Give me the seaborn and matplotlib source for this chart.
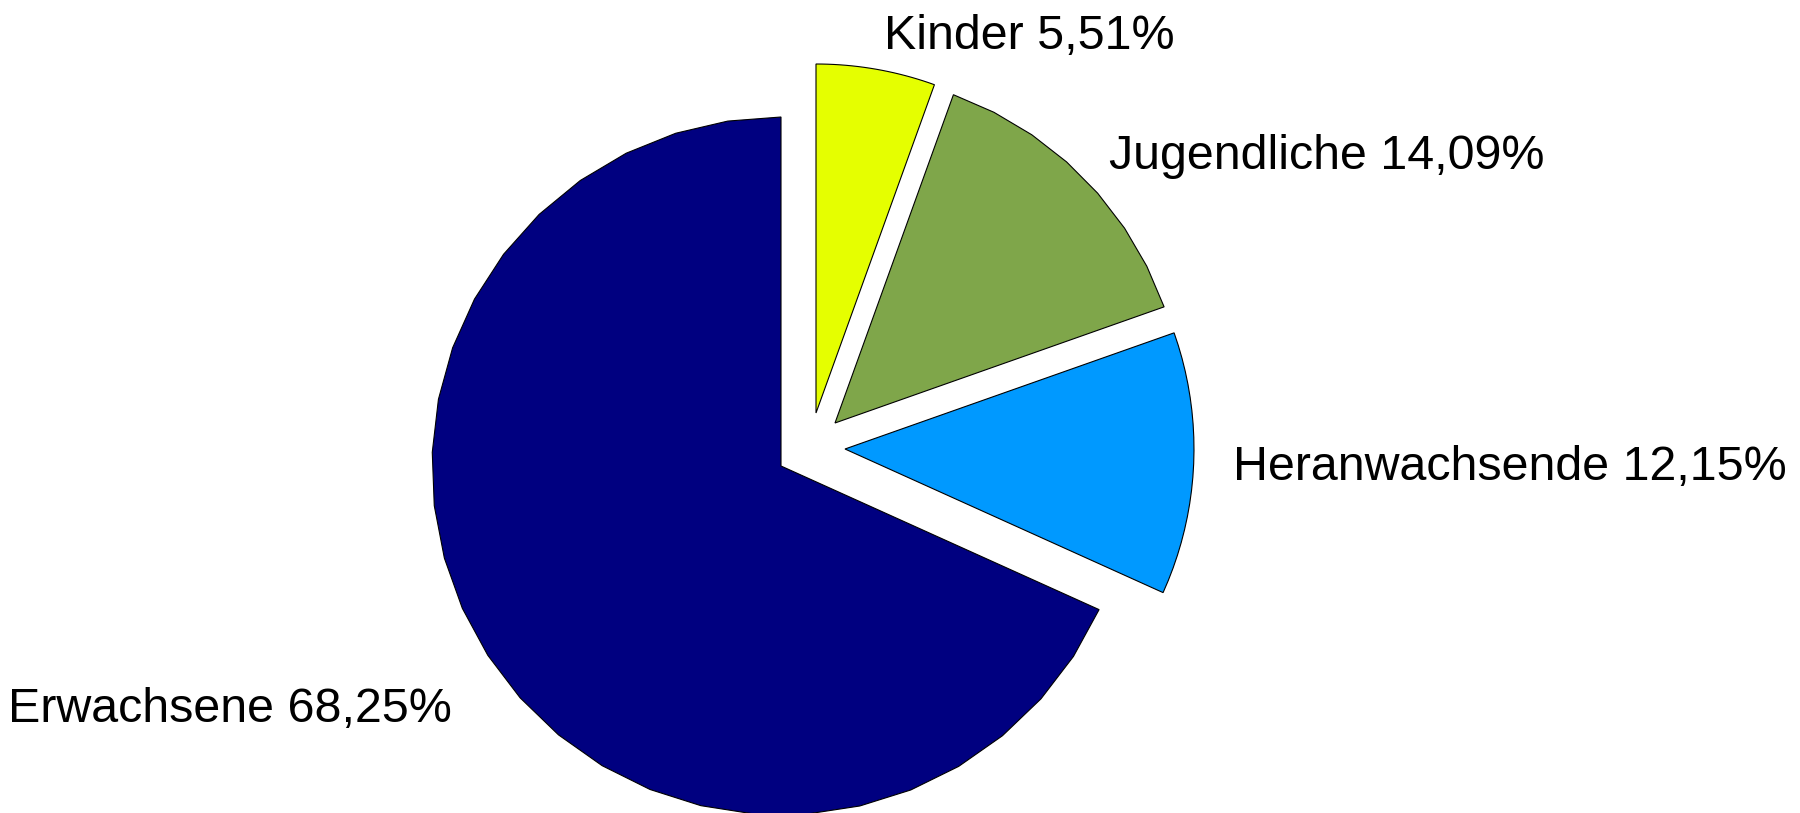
import numpy as np
import matplotlib
matplotlib.use("Agg")
import matplotlib.pyplot as plt
from matplotlib.patches import Polygon
import seaborn as sns

# --- data ---
labels = ["Kinder", "Jugendliche", "Heranwachsende", "Erwachsene"]
shares = [5.51, 14.09, 12.15, 68.25]
colors = ["#E5FF00", "#7FA64A", "#0099FF", "#000080"]

# --- layout (pixels of the 1800x813 canvas) ---
W, H = 1800, 813
cx, cy, rad = 781, 466, 349          # pie centre and radius
shift = [(35, 53), (54, 43), (64, 17), (0, 0)]   # explode offsets, right/up
segs = [20, 7, 20, 28]               # polygon segments per slice outline
label_px = [(884, 49, "left"), (1109, 169, "left"),
            (1233, 480, "left"), (452, 722, "right")]

sns.set_style("white")
plt.rcParams['font.family'] = ['Liberation Sans', 'DejaVu Sans']

fig = plt.figure(figsize=(W / 100, H / 100), dpi=100)
ax = fig.add_axes([0, 0, 1, 1])

wedges, _ = ax.pie(shares, colors=colors, startangle=90, counterclock=False,
                   radius=1, wedgeprops=dict(edgecolor="black", linewidth=0.8))

# redraw the wedges as coarse polygons, like the original export
for w, (dx, dy), n in zip(wedges, shift, segs):
    th = np.radians(np.linspace(w.theta1, w.theta2, n + 1))
    ox, oy = dx / rad, dy / rad
    xs = np.r_[0, np.cos(th)] + ox
    ys = np.r_[0, np.sin(th)] + oy
    poly = Polygon(np.column_stack([xs, ys]), closed=True,
                   facecolor=w.get_facecolor(), edgecolor="black", linewidth=0.8)
    ax.add_patch(poly)
    w.remove()

# labels
for lab, val, (px, py, ha) in zip(labels, shares, label_px):
    txt = f"{lab} {val:.2f}%".replace(".", ",")
    ax.text((px - cx) / rad, (cy - py) / rad, txt, ha=ha, va="baseline",
            fontsize=34.8, color="black")

ax.set_xlim(-cx / rad, (W - cx) / rad)
ax.set_ylim(-(H - cy) / rad, cy / rad)
ax.set_aspect("auto")
ax.axis("off")

fig.savefig("out.png", dpi=100)
